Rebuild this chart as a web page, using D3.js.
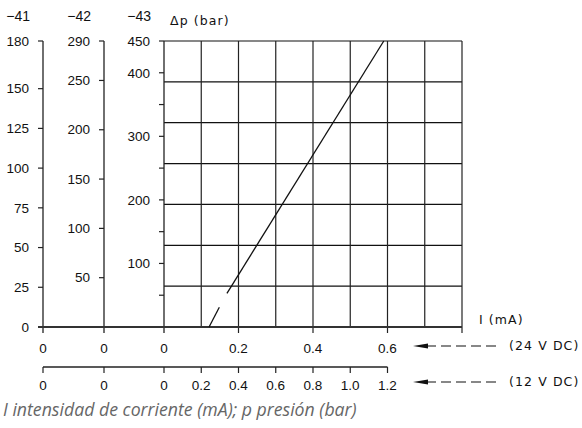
<!DOCTYPE html>
<html>
<head>
<meta charset="utf-8">
<script src="https://cdn.jsdelivr.net/npm/d3@7"></script>
<style>
  body { margin: 0; background: #fff; }
  svg { display: block; }
  text { font-family: "Liberation Sans", Arial, sans-serif; font-size: 13.5px; fill: #111; }
  .cad { font-family: "DejaVu Sans", sans-serif; font-size: 12.5px; letter-spacing: 1.1px; }
  .caption { font-family: "Open Sans", sans-serif; font-style: italic; font-size: 17.7px; fill: #666; }
</style>
</head>
<body>
<div id="chart"></div>
<script>
const width = 582;
const height = 428;

// scale values
const axis41Ticks = [0, 25, 50, 75, 100, 125, 150, 180];
const axis42Ticks = [0, 50, 100, 150, 200, 250, 290];
const axis42Labels = [50, 100, 150, 200, 250, 290];
const axis43Major = [0, 100, 200, 300, 400, 450];
const axis43Labels = [100, 200, 300, 400, 450];
const axis43Minor = [50, 150, 250, 350];
const current24Ticks = [0.2, 0.4, 0.6];
const current12Ticks = [0.2, 0.4, 0.6, 0.8, 1.0, 1.2];
const gridColumns = [0.1, 0.2, 0.3, 0.4, 0.5, 0.6, 0.7, 0.8];
const gridRows = [1, 2, 3, 4, 5, 6, 7];
const curveDashed = [{ i: 0.121, p: 0 }, { i: 0.1485, p: 31 }];
const curveSolid = [{ i: 0.169, p: 53 }, { i: 0.59, p: 450 }];
const axisNames = ['\u221241', '\u221242', '\u221243'];
const voltages = ['(24 V DC)', '(12 V DC)'];

const yTop = 41, yBottom = 327;
const x41 = 43, x42 = 104, x43 = 164, xEnd = 462;

const svg = d3.select('#chart')
  .append('svg')
  .attr('width', width)
  .attr('height', height);

const y41 = d3.scaleLinear().domain([0, 180]).range([yBottom, yTop]);
const y42 = d3.scaleLinear().domain([0, 290]).range([yBottom, yTop]);
const y43 = d3.scaleLinear().domain([0, 450]).range([yBottom, yTop]);
const yGrid = d3.scaleLinear().domain([0, 7]).range([yBottom, yTop]);
const xI = d3.scaleLinear().domain([0, 0.8]).range([x43, xEnd]);
const xI12 = d3.scaleLinear().domain([0, 1.6]).range([x43, xEnd]);

// grid
svg.selectAll('.hgrid')
  .data(gridRows)
  .enter()
  .append('line')
  .attr('x1', x43).attr('x2', xEnd)
  .attr('y1', d => yGrid(d)).attr('y2', d => yGrid(d))
  .attr('stroke', '#111').attr('stroke-width', 1.2);

svg.selectAll('.vgrid')
  .data(gridColumns)
  .enter()
  .append('line')
  .attr('x1', d => xI(d)).attr('x2', d => xI(d))
  .attr('y1', yTop)
  .attr('y2', d => (Math.round(d * 10) % 2 === 0 ? yBottom + 6 : yBottom))
  .attr('stroke', '#222').attr('stroke-width', 1.2);

// vertical axes
function leftAxis(x, scale, ticks, labels) {
  svg.append('line')
    .attr('x1', x).attr('x2', x)
    .attr('y1', yTop).attr('y2', yBottom + 6)
    .attr('stroke', '#222').attr('stroke-width', 1.3);
  svg.selectAll(null)
    .data(ticks)
    .enter()
    .append('line')
    .attr('x1', x - 5).attr('x2', x)
    .attr('y1', d => scale(d)).attr('y2', d => scale(d))
    .attr('stroke', '#222').attr('stroke-width', 1.2);
  svg.selectAll(null)
    .data(labels)
    .enter()
    .append('text')
    .attr('x', x - 14)
    .attr('y', d => scale(d))
    .attr('dy', '0.35em')
    .attr('text-anchor', 'end')
    .text(d => d);
}

leftAxis(x41, y41, axis41Ticks, axis41Ticks);
leftAxis(x42, y42, axis42Ticks, axis42Labels);
leftAxis(x43, y43, axis43Major.concat(axis43Minor), axis43Labels);

// bottom axis (24 V)
svg.append('line')
  .attr('x1', x41 - 5).attr('x2', xEnd)
  .attr('y1', yBottom).attr('y2', yBottom)
  .attr('stroke', '#333').attr('stroke-width', 2);

svg.selectAll('.lab24')
  .data([x41, x42, x43].map(x => ({ x, t: '0' }))
    .concat(current24Ticks.map(d => ({ x: xI(d), t: d.toFixed(1) }))))
  .enter()
  .append('text')
  .attr('x', d => d.x)
  .attr('y', 353)
  .attr('text-anchor', 'middle')
  .text(d => d.t);

// second axis (12 V)
const y12 = 367;
svg.append('line')
  .attr('x1', x41).attr('x2', xI12(1.2))
  .attr('y1', y12).attr('y2', y12)
  .attr('stroke', '#222').attr('stroke-width', 1.3);

const pos12 = [x41, x42, x43].map(x => ({ x, t: '0' }))
  .concat(current12Ticks.map(d => ({ x: xI12(d), t: d.toFixed(1) })));

svg.selectAll('.tick12')
  .data(pos12)
  .enter()
  .append('line')
  .attr('x1', d => d.x).attr('x2', d => d.x)
  .attr('y1', y12).attr('y2', y12 + 6)
  .attr('stroke', '#222').attr('stroke-width', 1.2);

svg.selectAll('.lab12')
  .data(pos12)
  .enter()
  .append('text')
  .attr('x', d => d.x)
  .attr('y', 390)
  .attr('text-anchor', 'middle')
  .text(d => d.t);

// curve
const line = d3.line().x(d => xI(d.i)).y(d => y43(d.p));
svg.append('path')
  .attr('d', line(curveDashed))
  .attr('fill', 'none').attr('stroke', '#111').attr('stroke-width', 1.3);
svg.append('path')
  .attr('d', line(curveSolid))
  .attr('fill', 'none').attr('stroke', '#111').attr('stroke-width', 1.3);

// axis names above the tick labels
svg.selectAll('.axname')
  .data(axisNames)
  .enter()
  .append('text')
  .attr('x', (d, i) => [x41, x42, x43][i] - 13)
  .attr('y', 21)
  .attr('text-anchor', 'end')
  .style('font-size', '14px')
  .text(d => d);

svg.append('text')
  .attr('class', 'cad')
  .attr('x', 170).attr('y', 25)
  .text('\u0394p (bar)');

svg.append('text')
  .attr('class', 'cad')
  .attr('x', 479).attr('y', 324)
  .text('I (mA)');

// voltage arrows
const arrows = svg.selectAll('.arrow')
  .data(voltages)
  .enter()
  .append('g')
  .attr('transform', (d, i) => `translate(0,${i === 0 ? 346 : 382})`);

arrows.append('path')
  .attr('d', 'M413,0 L428,-2.5 L428,2.5 Z')
  .attr('fill', '#111');
arrows.append('line')
  .attr('x1', 426).attr('x2', 498)
  .attr('stroke', '#111').attr('stroke-width', 1.2)
  .attr('stroke-dasharray', '10,5');
arrows.append('text')
  .attr('class', 'cad')
  .attr('x', 509).attr('y', 0)
  .attr('dy', '0.35em')
  .text(d => d);

svg.append('text')
  .attr('class', 'caption')
  .attr('x', 3).attr('y', 416)
  .text('I intensidad de corriente (mA); p presión (bar)');
</script>
</body>
</html>
